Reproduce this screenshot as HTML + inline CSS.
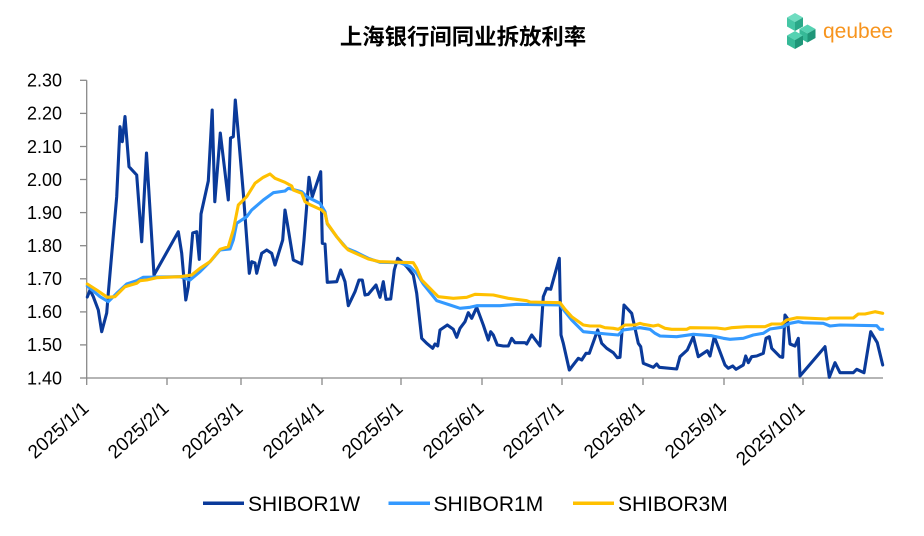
<!DOCTYPE html>
<html>
<head>
<meta charset="utf-8">
<style>
  html, body { margin: 0; padding: 0; background: #ffffff; }
  svg { display: block; }
  text { font-family: "Liberation Sans", "Noto Sans CJK SC", sans-serif; }
</style>
</head>
<body>
<svg width="924" height="536" viewBox="0 0 924 536" xmlns="http://www.w3.org/2000/svg">
  <rect x="0" y="0" width="924" height="536" fill="#ffffff"/>

  <!-- Title -->
  <text x="463" y="44.5" text-anchor="middle" font-size="22.4" font-weight="bold" fill="#000000" style="font-family:'Liberation Sans','Noto Sans CJK SC',sans-serif;">上海银行间同业拆放利率</text>

  <!-- Logo -->
  <g>
    <!-- cube 1 (top) -->
    <polygon points="795,13 803,17.5 795,22 787,17.5" fill="#6fdcc0"/>
    <polygon points="787,17.5 795,22 795,31 787,26.5" fill="#45c6a5"/>
    <polygon points="795,22 803,17.5 803,26.5 795,31" fill="#2aa888"/>
    <!-- cube 2 (right) -->
    <polygon points="807.5,24.5 815.5,29 807.5,33.5 799.5,29" fill="#55d2b2"/>
    <polygon points="799.5,29 807.5,33.5 807.5,42.5 799.5,38" fill="#36b997"/>
    <polygon points="807.5,33.5 815.5,29 815.5,38 807.5,42.5" fill="#1f9678"/>
    <!-- cube 3 (bottom-left) -->
    <polygon points="795,31 803,35.5 795,40 787,35.5" fill="#55d2b2"/>
    <polygon points="787,35.5 795,40 795,49 787,44.5" fill="#36b997"/>
    <polygon points="795,40 803,35.5 803,44.5 795,49" fill="#1f9678"/>
    <text x="823" y="38" font-size="21" fill="#F7941D">qeubee</text>
  </g>

  <!-- Axes -->
  <g stroke="#898989" stroke-width="1.3" fill="none">
    <line x1="86.7" y1="80.3" x2="86.7" y2="378"/>
    <line x1="86.7" y1="378" x2="883" y2="378"/>
    <line x1="80" y1="80.3" x2="86.7" y2="80.3"/>
    <line x1="80" y1="113.4" x2="86.7" y2="113.4"/>
    <line x1="80" y1="146.5" x2="86.7" y2="146.5"/>
    <line x1="80" y1="179.5" x2="86.7" y2="179.5"/>
    <line x1="80" y1="212.6" x2="86.7" y2="212.6"/>
    <line x1="80" y1="245.7" x2="86.7" y2="245.7"/>
    <line x1="80" y1="278.8" x2="86.7" y2="278.8"/>
    <line x1="80" y1="311.9" x2="86.7" y2="311.9"/>
    <line x1="80" y1="344.9" x2="86.7" y2="344.9"/>
    <line x1="80" y1="378" x2="86.7" y2="378"/>
    <line x1="86.7" y1="378" x2="86.7" y2="385"/>
    <line x1="167" y1="378" x2="167" y2="385"/>
    <line x1="241" y1="378" x2="241" y2="385"/>
    <line x1="322" y1="378" x2="322" y2="385"/>
    <line x1="401" y1="378" x2="401" y2="385"/>
    <line x1="482" y1="378" x2="482" y2="385"/>
    <line x1="562" y1="378" x2="562" y2="385"/>
    <line x1="643" y1="378" x2="643" y2="385"/>
    <line x1="724" y1="378" x2="724" y2="385"/>
    <line x1="803" y1="378" x2="803" y2="385"/>
  </g>

  <!-- Y labels -->
  <g font-size="18" fill="#000000" text-anchor="end">
    <text x="62" y="86.6">2.30</text>
    <text x="62" y="119.7">2.20</text>
    <text x="62" y="152.8">2.10</text>
    <text x="62" y="185.8">2.00</text>
    <text x="62" y="218.9">1.90</text>
    <text x="62" y="252">1.80</text>
    <text x="62" y="285.1">1.70</text>
    <text x="62" y="318.2">1.60</text>
    <text x="62" y="351.2">1.50</text>
    <text x="62" y="384.3">1.40</text>
  </g>

  <!-- X labels -->
  <g font-size="19" fill="#000000" text-anchor="end">
    <text transform="translate(90,410) rotate(-42)">2025/1/1</text>
    <text transform="translate(170,410) rotate(-42)">2025/2/1</text>
    <text transform="translate(244,410) rotate(-42)">2025/3/1</text>
    <text transform="translate(325,410) rotate(-42)">2025/4/1</text>
    <text transform="translate(404,410) rotate(-42)">2025/5/1</text>
    <text transform="translate(485,410) rotate(-42)">2025/6/1</text>
    <text transform="translate(565,410) rotate(-42)">2025/7/1</text>
    <text transform="translate(646,410) rotate(-42)">2025/8/1</text>
    <text transform="translate(727,410) rotate(-42)">2025/9/1</text>
    <text transform="translate(806,410) rotate(-42)">2025/10/1</text>
  </g>

  <!-- Series -->
  <g fill="none" stroke-width="3.1" stroke-linejoin="round" stroke-linecap="round">
    <polyline stroke="#0A3A9A" points="87.3,297 90,290 93.3,296.7 98.3,310 101.7,331.7 106.7,313 108.3,293.3 116.7,196.7 120,126.7 122.3,141.7 125,116.5 129,166.7 136.7,175 141.7,241.7 146.5,153 154,275 178.3,231.7 181.7,253.3 185.8,300 188.3,286.7 192.7,233 196.7,231.7 199.3,259.3 201,214 208.3,181 212.2,110 214.8,201.7 220.3,133 228.3,200 230.5,138 233.3,136.7 235.3,100 237.8,128 243.3,193 249.3,273.3 251.7,261.7 255,263 256.7,273.3 261.7,253.3 266.7,250 271.7,253.3 275,265 282.7,240 285,210 287.3,223.3 293.3,260 301.7,264 304,240 309,177.3 312.3,196.7 320.7,171.7 322.3,243.3 325,244 327.3,282.3 336.7,281.7 340.7,270 345,281.7 348.3,305.7 355,291.7 359,280 362.3,280 365,295 368.3,294.3 376,285 380,297.3 383.3,281.7 386,299.3 390.7,299 394.3,270 397.7,258.3 401.7,261.7 406.7,266.7 413.3,275 416.7,293.3 421.7,338.3 426.7,343.3 432.7,348.3 435,344 437.7,346 440,330 447.3,325 453.3,329.3 456.7,337.3 460,328.3 465,321.7 468.3,312.7 471.7,318.3 476.7,307.3 483.3,325 488.3,340 490.7,331.7 493.3,335 497.3,345 503.3,346 508.3,346 511.7,338.3 515,342.7 525,342.7 526.7,344 531.7,335 540,346 543.3,296.7 546.7,288.3 550.7,289.3 559.3,258.3 561,335 563.3,343.3 569.3,370 578.3,358.3 581.7,360 586,353.3 589.3,353.3 597.7,330 601.7,343.3 606.7,348.3 613.3,352.7 617.3,357.7 620,357.3 624,305 631.7,313.3 638.3,343.3 640.7,346.7 643.3,363.3 653.3,367.3 656.7,364 659.3,367.3 676.7,369 680,356.7 687.3,350 693.3,336.7 698.3,356.7 707.3,350.7 710,356 714.3,336.7 725,365 728.3,368.3 732.7,366 736,369.3 743.3,365 745.7,356 748.3,362.7 751.7,356.7 756.7,356 763.3,353.3 766,338.3 769.3,336.7 771.7,348.3 780,356.7 782.7,357.3 785,315 787.3,318.3 790,344 795,346 798.3,338.3 800,376 825,346.7 829.3,377.3 835,362.7 840,372.7 853.3,372.7 856.7,369.3 864,372.7 870.7,331.7 877.3,342.7 882.7,365"/>
    <polyline stroke="#3399FF" points="87.3,286 100,296.7 108.3,301.7 116.7,293.3 126.7,284 136.7,280.7 143.3,277.3 180,276.7 190,280 200,271.7 210,261.7 220,250 230,249 233.3,240 236.7,223.3 246.7,216.7 251.7,210 263.3,200 273.3,192.7 285,191 288.3,188.3 301.7,191.7 306.7,196.7 320,203.3 325,211.7 327.3,224 336.7,236.7 346.7,248.3 355,251.7 368.3,258.3 380,262.3 400,262.7 410,266.7 416.7,273.3 423.3,284 436.7,300.7 450,305 460,308.3 470,307.3 476.7,305.7 500,305.7 516.7,304.3 560,305 565,311.7 571.7,320 583.3,331.7 593.3,332.7 606.7,334 618.3,335 623.3,330 640,327.7 650,329.3 655,333.3 660,336 676.7,336.7 693.3,334.3 711.7,335.7 723.3,338.3 730,339.3 743.3,338.3 753.3,335 763.3,333.3 770,329 781.7,327.3 790,323.3 798.3,321.7 803.3,322.7 823.3,323.3 830,326 840,325 876.7,325.7 880,329.3 882.7,329.3"/>
    <polyline stroke="#FFC000" points="87.3,284 96.7,290 107.3,297.3 115,296.7 125,286.7 136.7,283.3 140,280.7 146.7,280 156.7,277.7 180,276.7 191.7,275 200,268.3 210,261.7 220,249.3 228.3,246.7 233.3,230 238.3,205 246.7,196.7 255,183.3 263.3,177.3 270,174 275,178.3 285,182.3 291.7,186 293.3,190 301.7,193.3 305,201.7 310,204.7 321.7,210 325,213.3 327.3,223.3 336.7,236.7 343.3,245 348.3,250 368.3,259 380,261.7 413.3,262.7 416.7,268.3 421.7,280 433.3,291.7 438.3,296.7 453.3,298.3 466.7,297.3 475,294.3 493.3,295 508.3,298.3 526.7,300.7 530,302 560,302.7 565,309.3 571.7,316.7 583.3,325 590,326 600,326 605,327.7 613.3,328.3 618.3,329.3 625,325 635,325 640,323.3 643.3,324.3 653.3,326 658.3,325 665,328.3 671.7,329.3 686.7,329.3 690,327.7 716.7,328 725,329 731.7,327.7 746.7,326.7 765,326.7 771.7,324 781.7,324 786.7,320 796.7,317.7 826.7,319 830,318 853.3,318 858.3,314 865,314 875,311.7 882.7,313.3"/>
  </g>

  <!-- Legend -->
  <g stroke-width="3.5" stroke-linecap="butt">
    <line x1="203" y1="503.3" x2="244" y2="503.3" stroke="#0A3A9A"/>
    <line x1="388.5" y1="503.3" x2="430" y2="503.3" stroke="#3399FF"/>
    <line x1="573" y1="503.3" x2="614" y2="503.3" stroke="#FFC000"/>
  </g>
  <g font-size="21" fill="#000000">
    <text x="248" y="511">SHIBOR1W</text>
    <text x="433.5" y="511">SHIBOR1M</text>
    <text x="618" y="511">SHIBOR3M</text>
  </g>
</svg>
</body>
</html>
